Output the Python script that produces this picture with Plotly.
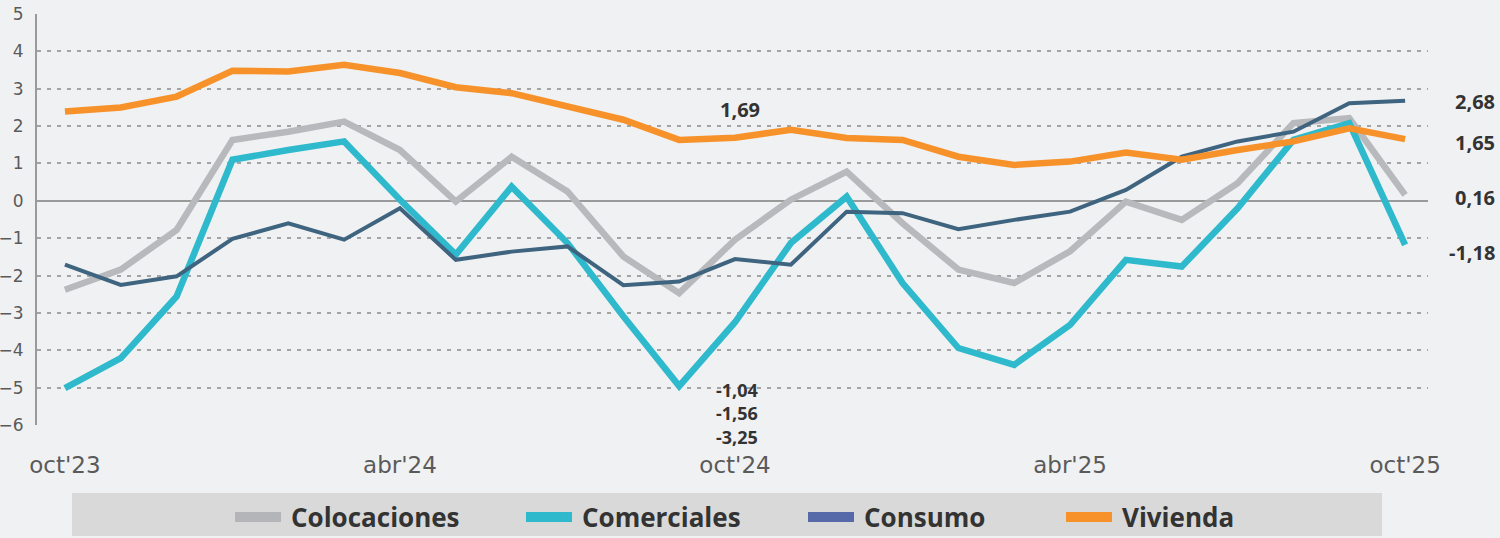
import plotly.graph_objects as go

# datos mensuales oct'23 - oct'25
MONTHS = ["oct'23", "nov'23", "dic'23", "ene'24", "feb'24", "mar'24", "abr'24", "may'24",
          "jun'24", "jul'24", "ago'24", "sep'24", "oct'24", "nov'24", "dic'24", "ene'25",
          "feb'25", "mar'25", "abr'25", "may'25", "jun'25", "jul'25", "ago'25", "sep'25", "oct'25"]
TICKS = ["oct'23", "abr'24", "oct'24", "abr'25", "oct'25"]

colocaciones = [-2.38, -1.84, -0.78, 1.63, 1.85, 2.12, 1.36, -0.02, 1.18, 0.25, -1.49, -2.47, -1.04,
                0.03, 0.78, -0.60, -1.84, -2.20, -1.35, -0.02, -0.51, 0.47, 2.08, 2.21, 0.16]
comerciales = [-5.01, -4.21, -2.56, 1.10, 1.36, 1.59, 0.03, -1.44, 0.38, -1.13, -3.09, -4.96, -3.25,
               -1.13, 0.11, -2.20, -3.94, -4.39, -3.32, -1.58, -1.76, -0.20, 1.63, 2.08, -1.18]
consumo = [-1.71, -2.25, -2.02, -1.02, -0.60, -1.04, -0.20, -1.58, -1.36, -1.22, -2.26, -2.16, -1.56,
           -1.71, -0.29, -0.33, -0.76, -0.51, -0.29, 0.29, 1.18, 1.59, 1.85, 2.61, 2.68]
vivienda = [2.39, 2.50, 2.79, 3.48, 3.46, 3.64, 3.42, 3.04, 2.88, 2.52, 2.17, 1.63, 1.69,
            1.90, 1.68, 1.63, 1.18, 0.96, 1.05, 1.29, 1.10, 1.36, 1.59, 1.94, 1.65]

W, H = 1500, 538
L, R, T, B = 37, 72, 14, 113


def fmt(v):
    return f"{v:.2f}".replace(".", ",")


def px(x):  # pixel -> paper x
    return (x - L) / (W - L - R)


def py(y):  # pixel -> paper y
    return (H - B - y) / (H - T - B)


series = [
    ("Colocaciones", colocaciones, "#b8b9bc", 6.5, "#b4b5b8"),
    ("Comerciales", comerciales, "#2fb9cc", 6.5, "#2fb9cc"),
    ("Consumo", consumo, "#3f6480", 4, "#5669a9"),
    ("Vivienda", vivienda, "#f7922b", 6.5, "#f7922b"),
]

fig = go.Figure()
for name, vals, color, w, _ in series:
    fig.add_trace(go.Scatter(x=MONTHS, y=vals, mode="lines", name=name, showlegend=False,
                             line=dict(color=color, width=w)))

ann_font = dict(family="Open Sans", size=20, color="#333333", weight="bold")

# labels en oct'24
mid = MONTHS.index("oct'24")
fig.add_annotation(x=mid, y=vivienda[mid], text=fmt(vivienda[mid]), showarrow=False,
                   yshift=28, xshift=5, font=ann_font)
stack = "<br>".join(fmt(v[mid]) for v in [colocaciones, consumo, comerciales])
fig.add_annotation(x=mid, y=-5, text=stack, showarrow=False, yanchor="top", yshift=12, xshift=2,
                   font=dict(ann_font, size=18))

# labels al final
last = len(MONTHS) - 1
end_y = [2.65, 1.55, 0.1, -1.37]
for vals, yy in zip([consumo, vivienda, colocaciones, comerciales], end_y):
    fig.add_annotation(x=1.0, xref="paper", xanchor="right", xshift=69, y=yy, yref="y",
                       text=fmt(vals[last]), showarrow=False, font=ann_font)

# leyenda (caja + muestras)
fig.add_shape(type="rect", xref="paper", yref="paper", x0=px(72), x1=px(1382), y0=py(536), y1=py(493),
              fillcolor="#d9d9d9", line=dict(width=0), layer="below")
leg_x = [231, 522, 804, 1062]
for (name, _, _, _, lc), x0 in zip(series, leg_x):
    fig.add_shape(type="line", xref="paper", yref="paper", x0=px(x0 + 4), x1=px(x0 + 50),
                  y0=py(517), y1=py(517), line=dict(color=lc, width=10))
    fig.add_annotation(x=px(x0 + 58), y=py(517), xref="paper", yref="paper", xanchor="left",
                       yanchor="middle", text=name, showarrow=False,
                       font=dict(family="Open Sans", size=26, color="#333333", weight="bold"))

fig.update_layout(
    width=W, height=H,
    margin=dict(l=L, r=R, t=T, b=B),
    paper_bgcolor="#f0f1f2", plot_bgcolor="#f0f1f2",
    font=dict(family="Open Sans", color="#555555"),
    showlegend=False,
)
fig.update_xaxes(type="category", range=[-0.5, 24.41], tickvals=TICKS, ticktext=TICKS,
                 showgrid=False, zeroline=False, showline=False, ticks="", automargin=False,
                 tickfont=dict(size=23, color="#5a5a5a", family="DejaVu Sans"), ticklabelstandoff=24)
fig.update_yaxes(range=[-6, 5], dtick=1, showgrid=True, gridcolor="#a4a4a4", gridwidth=1.5,
                 griddash="4px,6px", zeroline=True, zerolinecolor="#9a9a9a", zerolinewidth=2,
                 showline=True, linecolor="#9a9a9a", linewidth=2, ticks="", automargin=False,
                 tickfont=dict(size=17, color="#5a5a5a", family="DejaVu Sans"), ticklabelstandoff=8)

fig.write_html("out.html", config={"displayModeBar": False},
               post_script="document.body.style.margin='0';"
                           "document.body.style.background='#f0f1f2';")
